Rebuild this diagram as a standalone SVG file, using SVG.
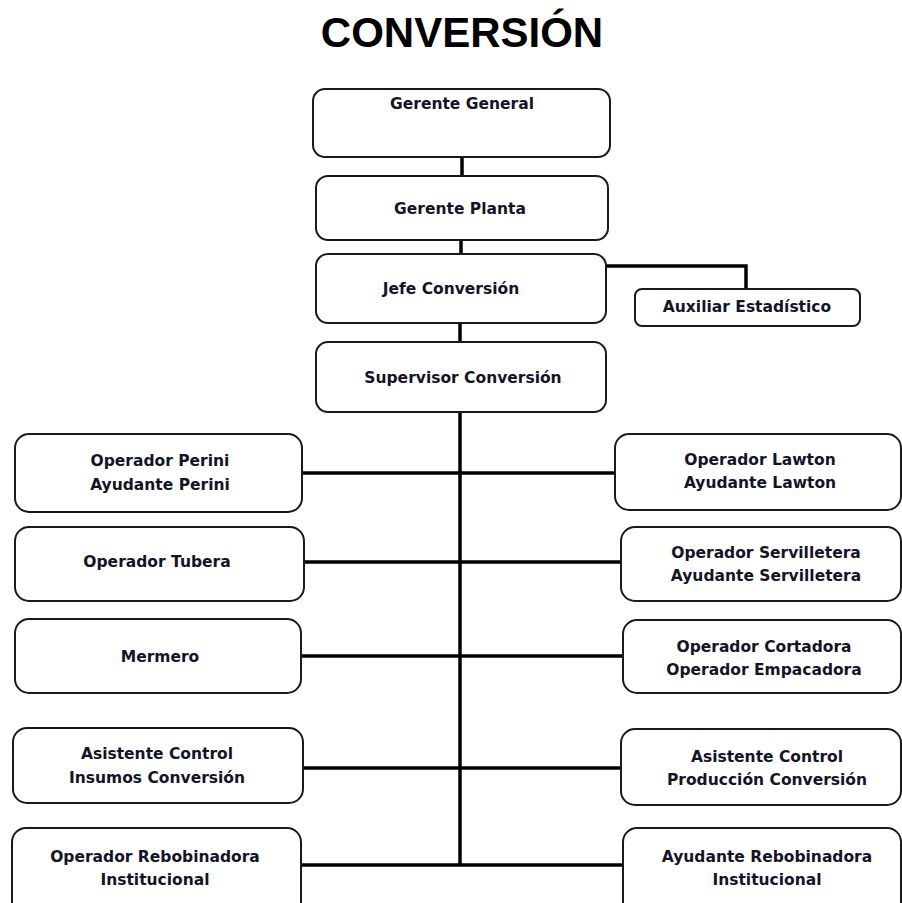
<svg xmlns="http://www.w3.org/2000/svg" width="902" height="903" viewBox="0 0 902 903">
<style>
.box{fill:#fff;stroke:#1a1a1a;stroke-width:2}
.t{font-family:"DejaVu Sans",Verdana,sans-serif;font-weight:bold;font-size:15.5px;fill:#141428;text-anchor:middle}
.title{font-family:"Liberation Sans",Arial,sans-serif;font-weight:bold;font-size:42px;fill:#000;text-anchor:middle}
.c{fill:none;stroke:#000;stroke-width:3.5}
</style>
<rect width="902" height="903" fill="#fff"/>
<text class="title" x="462" y="47">CONVERSIÓN</text>
<g id="connectors">
<path class="c" d="M462 157V176"/>
<path class="c" d="M461 240V254"/>
<path class="c" d="M460 323V342"/>
<path class="c" d="M606 266H746V289"/>
<path class="c" d="M460 412V866"/>
<path class="c" d="M302 473H615"/>
<path class="c" d="M304 562H621"/>
<path class="c" d="M301 656H623"/>
<path class="c" d="M303 768H621"/>
<path class="c" d="M301 865H623"/>
</g>
<g id="gerente-general"><rect class="box" x="313" y="89" width="297" height="68" rx="12"/><text class="t" x="462" y="109">Gerente General</text></g>
<g id="gerente-planta"><rect class="box" x="316" y="176" width="292" height="64" rx="12"/><text class="t" x="460" y="214">Gerente Planta</text></g>
<g id="jefe-conversion"><rect class="box" x="316" y="254" width="290" height="69" rx="12"/><text class="t" x="451" y="294">Jefe Conversión</text></g>
<g id="auxiliar-estadistico"><rect class="box" x="635" y="289" width="225" height="37" rx="7"/><text class="t" x="747" y="312">Auxiliar Estadístico</text></g>
<g id="supervisor-conversion"><rect class="box" x="316" y="342" width="290" height="70" rx="12"/><text class="t" x="463" y="383">Supervisor Conversión</text></g>
<g id="operador-perini"><rect class="box" x="15" y="434" width="287" height="78" rx="14"/><text class="t" x="160" y="466">Operador Perini</text><text class="t" x="160" y="490">Ayudante Perini</text></g>
<g id="operador-tubera"><rect class="box" x="15" y="527" width="289" height="74" rx="14"/><text class="t" x="157" y="567">Operador Tubera</text></g>
<g id="mermero"><rect class="box" x="15" y="619" width="286" height="74" rx="14"/><text class="t" x="160" y="662">Mermero</text></g>
<g id="asistente-insumos"><rect class="box" x="13" y="728" width="290" height="75" rx="14"/><text class="t" x="157" y="759">Asistente Control</text><text class="t" x="157" y="783">Insumos Conversión</text></g>
<g id="operador-rebobinadora"><rect class="box" x="12" y="828" width="289" height="90" rx="14"/><text class="t" x="155" y="862">Operador Rebobinadora</text><text class="t" x="155" y="885">Institucional</text></g>
<g id="operador-lawton"><rect class="box" x="615" y="434" width="286" height="76" rx="14"/><text class="t" x="760" y="465">Operador Lawton</text><text class="t" x="760" y="488">Ayudante Lawton</text></g>
<g id="operador-servilletera"><rect class="box" x="621" y="527" width="280" height="74" rx="14"/><text class="t" x="766" y="558">Operador Servilletera</text><text class="t" x="766" y="581">Ayudante Servilletera</text></g>
<g id="operador-cortadora"><rect class="box" x="623" y="620" width="278" height="73" rx="14"/><text class="t" x="764" y="652">Operador Cortadora</text><text class="t" x="764" y="675">Operador Empacadora</text></g>
<g id="asistente-produccion"><rect class="box" x="621" y="729" width="280" height="76" rx="14"/><text class="t" x="767" y="762">Asistente Control</text><text class="t" x="767" y="785">Producción Conversión</text></g>
<g id="ayudante-rebobinadora"><rect class="box" x="623" y="828" width="278" height="90" rx="14"/><text class="t" x="767" y="862">Ayudante Rebobinadora</text><text class="t" x="767" y="885">Institucional</text></g>
</svg>
